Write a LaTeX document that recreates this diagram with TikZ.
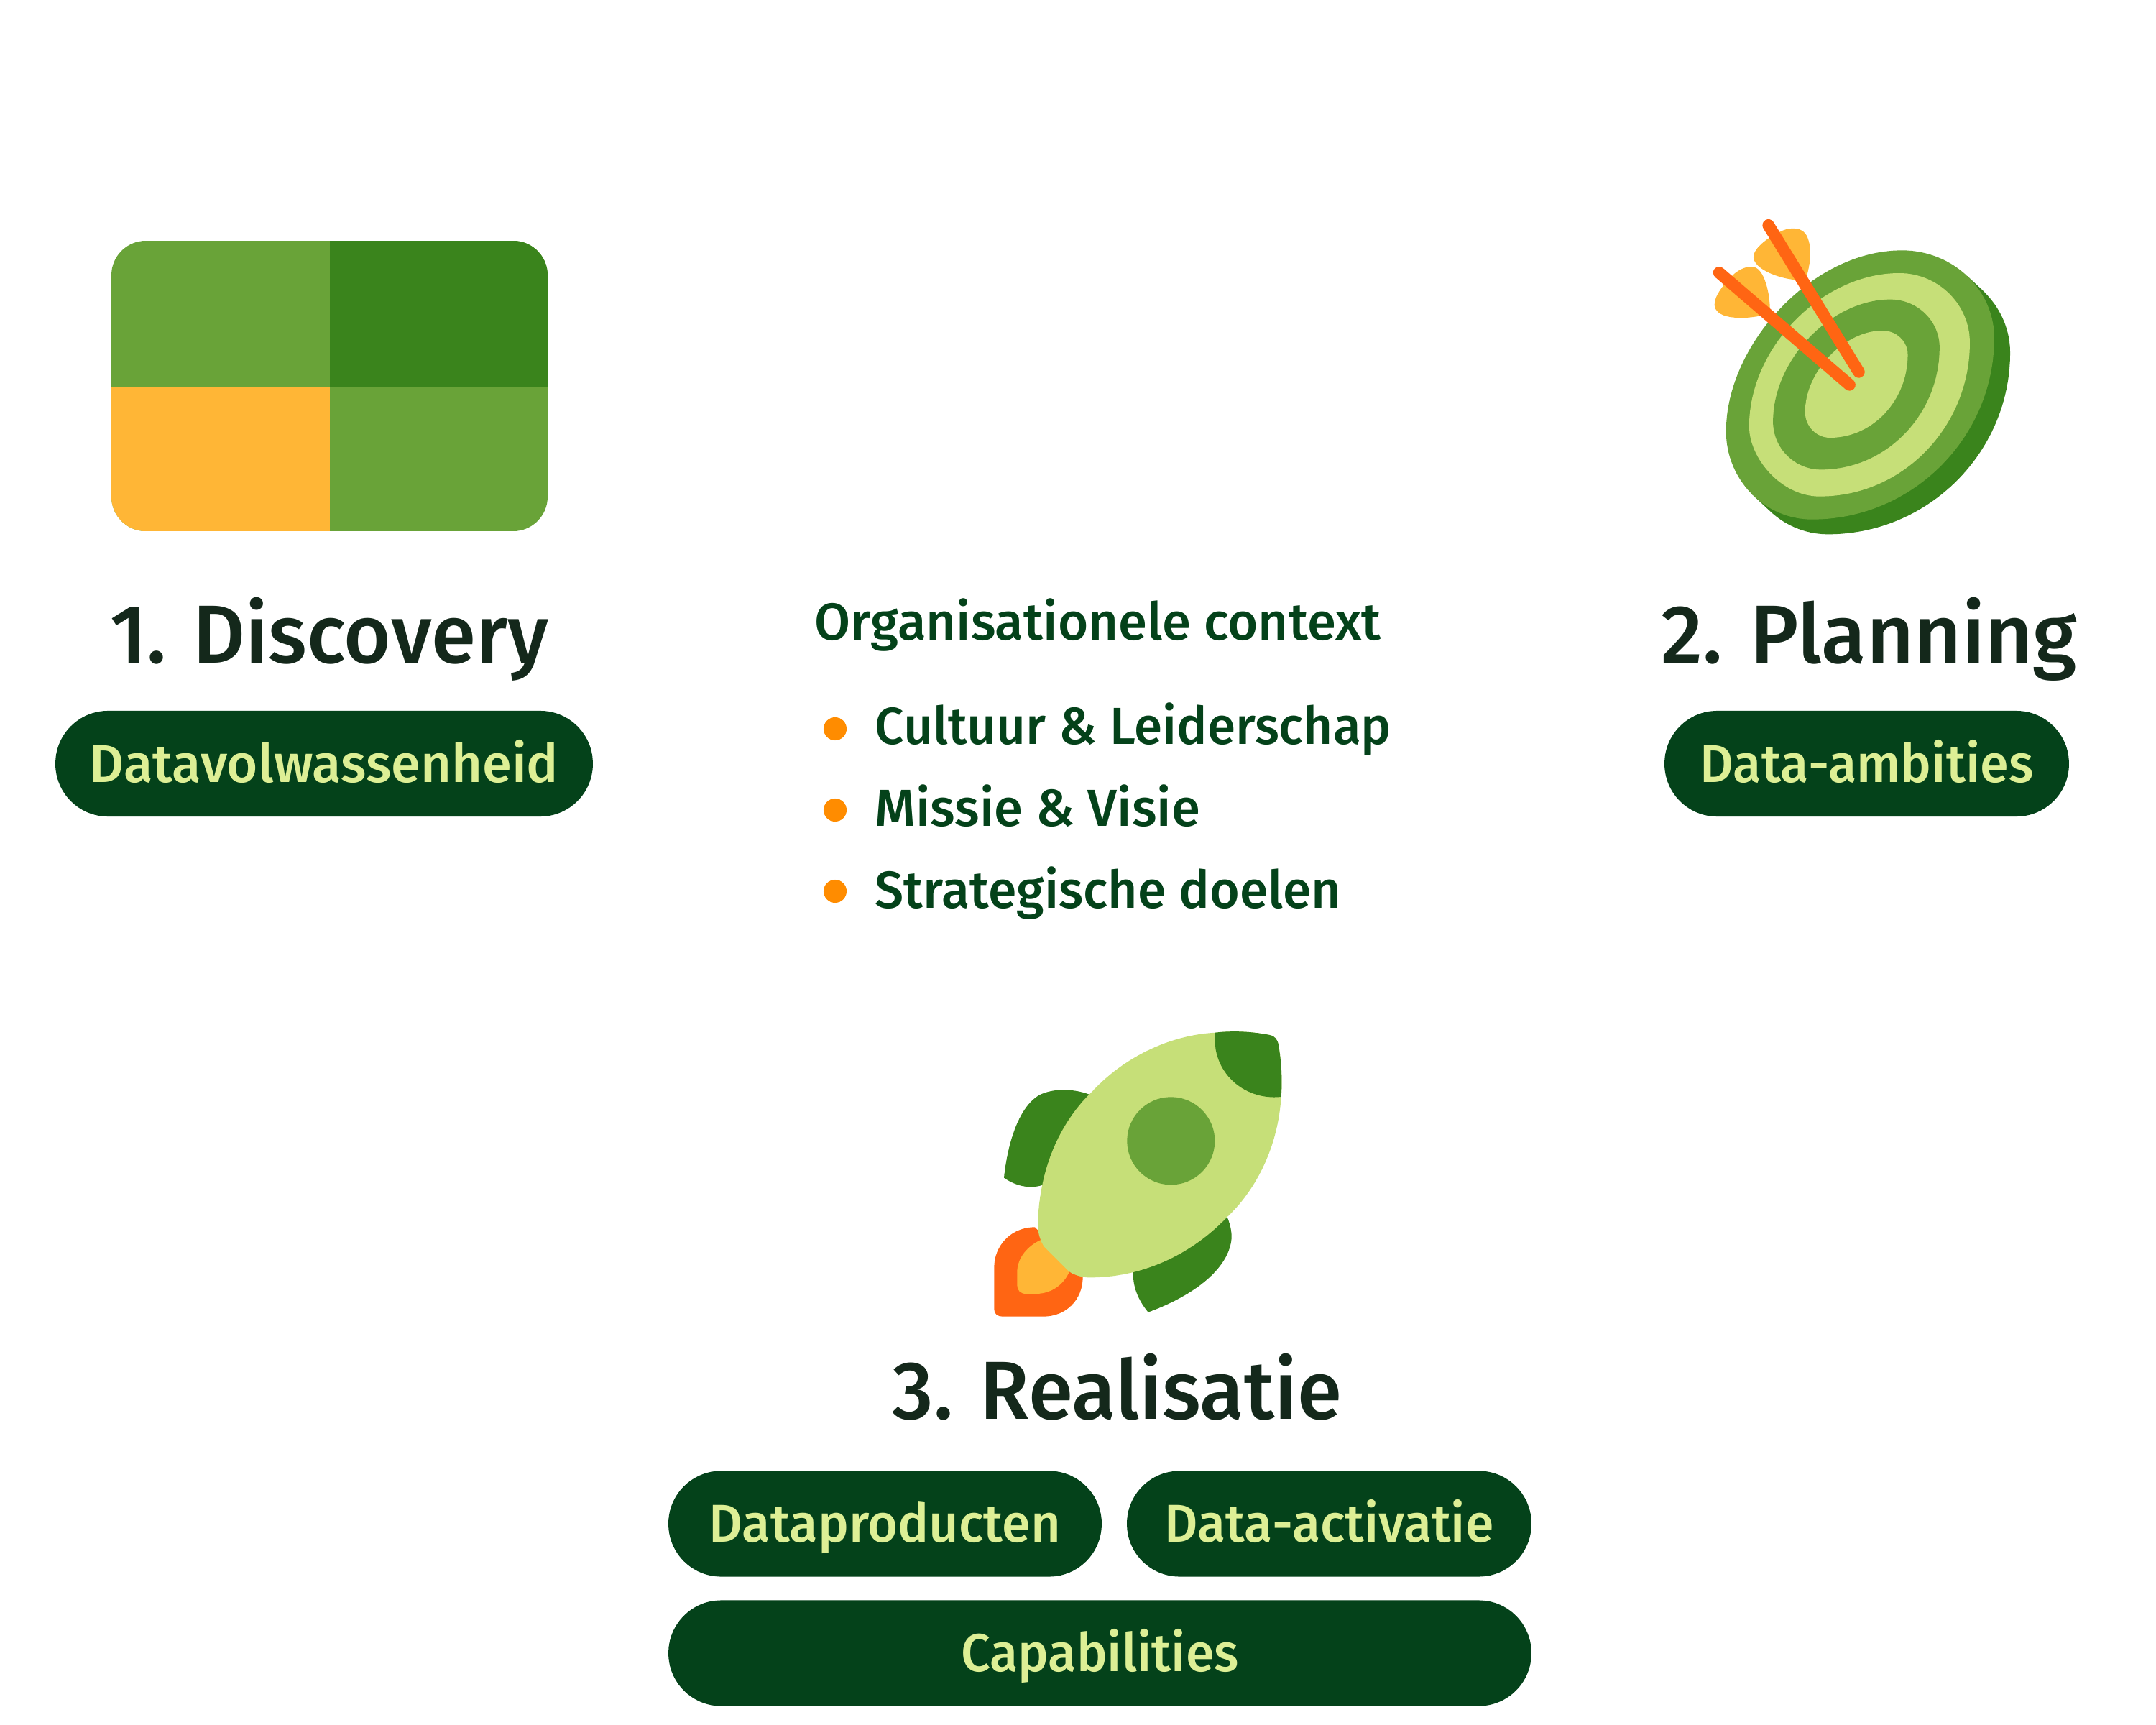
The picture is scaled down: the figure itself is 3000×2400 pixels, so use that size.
\documentclass[tikz,border=0pt]{standalone}
\usepackage{fontspec}
\setmainfont{Fira Sans}[UprightFont=* Medium]
\definecolor{leaf}{HTML}{69A338}
\definecolor{moss}{HTML}{3A841C}
\definecolor{lime}{HTML}{C6DF78}
\definecolor{amber}{HTML}{FFB636}
\definecolor{flame}{HTML}{FF6513}
\definecolor{dot}{HTML}{FF8C00}
\definecolor{pine}{HTML}{04421A}
\definecolor{ink}{HTML}{14281B}
\definecolor{pale}{HTML}{DDEF95}
\newcommand{\squeeze}[2]{\scalebox{#1}[1]{#2}}
\begin{document}
\begin{tikzpicture}[x=0.24pt, y=-0.24pt,
  pill/.style = {fill=pine, text=pale, inner sep=0pt, minimum height=35.3pt, text height=16.24pt, text depth=4pt, rounded corners=17.6pt, font=\fontsize{17.8}{20}\selectfont},
  heading/.style = {text=ink, inner sep=0pt, anchor=base, font=\fontsize{27.5}{32}\selectfont},
  item/.style = {text=pine, inner sep=0pt, anchor=base west, font=\fontsize{17.4}{20}\selectfont},
  bullet/.style = {circle, fill=dot, inner sep=0pt, minimum size=7.7pt}]
\useasboundingbox (0,0) rectangle (3000,2400);

% discovery
\begin{scope}
\clip[rounded corners=11.5pt] (155,335) rectangle (762,739);
\fill[leaf] (155,335) rectangle (762,739);
\fill[moss] (459,335) rectangle (762,538);
\fill[amber] (155,538) rectangle (459,739);
\end{scope}

\node[heading] (discovery) at (458.5,922) {\squeeze{0.983}{1. Discovery}};
\node[pill, minimum width=179.5pt] (maturity) at (451,1062.5) {Datavolwassenheid};

% planning
\def\targetouter{(970,205) .. controls (1170,205) and (1330,370) .. (1330,570) .. controls (1330,987) and (1010,1328) .. (620,1328) .. controls (435,1328) and (285,1162) .. (285,960) .. controls (285,600) and (620,205) .. (970,205) -- cycle}
\begin{scope}[shift={(2300,280)}, x=0.0857pt, y=-0.08pt]
\fill[moss, shift={(62,62)}] \targetouter;
\fill[moss] (1225,312) -- (1287,374) -- (445,1282) -- (383,1220) -- cycle;
\fill[leaf] \targetouter;
\fill[lime] (960,300) .. controls (1111,300) and (1235,430) .. (1235,590) .. controls (1235,943) and (972,1232) .. (650,1232) .. controls (499,1232) and (375,1071) .. (375,940) .. controls (375,610) and (660,300) .. (960,300) -- cycle;
\fill[leaf] (925,410) .. controls (1031,410) and (1117,500) .. (1117,610) .. controls (1117,890) and (909,1120) .. (655,1120) .. controls (552,1120) and (468,1030) .. (468,920) .. controls (468,660) and (696,410) .. (925,410) -- cycle;
\fill[lime] (895,540) .. controls (949,540) and (993,585) .. (993,640) .. controls (993,830) and (857,987) .. (690,987) .. controls (637,987) and (593,939) .. (593,880) .. controls (593,710) and (746,540) .. (895,540) -- cycle;
\fill[amber] (600,310) .. controls (620,230) and (615,180) .. (600,145) .. controls (585,110) and (540,105) .. (500,125) .. controls (440,155) and (390,200) .. (392,235) .. controls (395,280) and (480,320) .. (555,328) -- cycle;
\fill[amber] (456,450) .. controls (455,380) and (435,300) .. (405,280) .. controls (385,265) and (350,275) .. (320,300) .. controls (275,345) and (240,395) .. (240,430) .. controls (240,490) and (340,495) .. (420,478) -- cycle;
\draw[flame, line width=4pt, line cap=round] (450,100) -- (802,712);
\draw[flame, line width=4pt, line cap=round] (258,298) -- (766,766);
\end{scope}

\node[heading] (planning) at (2601,922) {\squeeze{0.998}{2. Planning}};
\node[pill, minimum width=135.1pt] (ambition) at (2597.5,1062.5) {\squeeze{0.972}{Data-ambities}};

% context
\node[item] (context) at (1133,890) {Organisationele context};
\node[bullet] (dot1) at (1162,1014) {};
\node[bullet] (dot2) at (1162,1127) {};
\node[bullet] (dot3) at (1162,1240) {};
\node[item] (culture) at (1217,1035) {\squeeze{0.98}{Cultuur \& Leiderschap}};
\node[item] (mission) at (1217,1149) {Missie \& Visie};
\node[item] (goals) at (1217,1263) {\squeeze{0.988}{Strategische doelen}};

% realisation
\begin{scope}[shift={(1350,1400)}, x=0.08pt, y=-0.08pt]
\fill[moss] (497,368) .. controls (420,340) and (340,345) .. (290,370) .. controls (200,420) and (155,580) .. (141,716) .. controls (190,750) and (250,765) .. (305,745) -- cycle;
\fill[moss] (1072,878) .. controls (1090,920) and (1095,960) .. (1088,990) .. controls (1060,1120) and (900,1220) .. (743,1277) .. controls (700,1225) and (678,1170) .. (680,1105) -- cycle;
\fill[flame] (270,922) .. controls (170,922) and (100,1000) .. (100,1090) -- (100,1265) .. controls (100,1285) and (115,1295) .. (135,1295) -- (305,1295) .. controls (400,1295) and (470,1225) .. (470,1130) -- cycle;
\fill[amber] (295,975) .. controls (240,1000) and (196,1050) .. (196,1110) -- (196,1165) .. controls (196,1185) and (210,1200) .. (232,1200) -- (275,1200) .. controls (335,1200) and (390,1165) .. (415,1105) -- cycle;
\fill[lime] (282,910) .. controls (290,640) and (400,460) .. (510,355) .. controls (640,215) and (830,120) .. (1025,110) .. controls (1110,100) and (1190,108) .. (1250,120) .. controls (1270,122) and (1283,140) .. (1287,160) .. controls (1300,240) and (1303,310) .. (1298,378) .. controls (1285,590) and (1190,770) .. (1072,880) .. controls (920,1040) and (710,1135) .. (490,1132) .. controls (460,1130) and (430,1120) .. (410,1105) -- (310,1005) .. controls (295,985) and (282,950) .. (282,910) -- cycle;
\fill[moss] (1023,110) .. controls (1110,100) and (1190,108) .. (1250,120) .. controls (1270,122) and (1283,140) .. (1287,160) .. controls (1300,240) and (1303,310) .. (1298,378) .. controls (1140,395) and (1005,270) .. (1023,110) -- cycle;
\fill[leaf] (838,562) circle[radius=183];
\end{scope}

\node[heading] (realisation) at (1554.5,1974) {\squeeze{0.983}{3. Realisatie}};
\node[pill, minimum width=144.7pt] (products) at (1231.5,2120) {\squeeze{0.973}{Dataproducten}};
\node[pill, minimum width=135.1pt] (activation) at (1849.5,2120) {\squeeze{0.965}{Data-activatie}};
\node[pill, minimum width=288.2pt] (capabilities) at (1530.5,2300) {\squeeze{0.97}{Capabilities}};

\end{tikzpicture}
\end{document}
